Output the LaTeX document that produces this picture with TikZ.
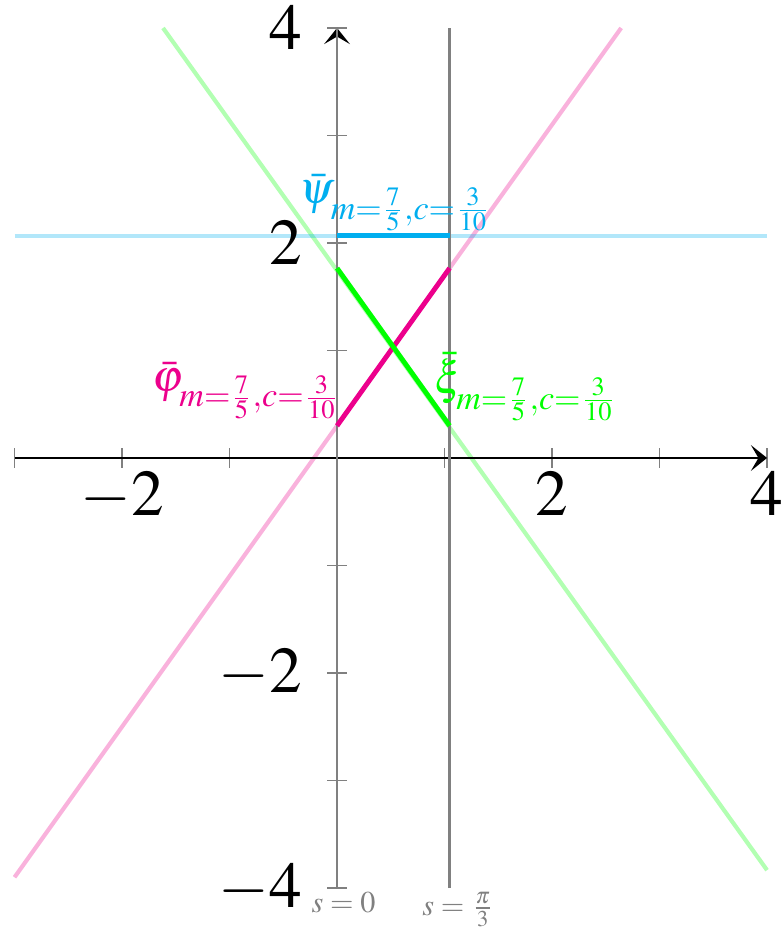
\documentclass[tikz,border=0pt]{standalone}
\usepackage{mathptmx}
\usetikzlibrary{arrows.meta}
\definecolor{cmag}{RGB}{236,0,140}
\definecolor{cgrn}{RGB}{0,255,0}
\definecolor{ccyn}{RGB}{0,174,239}
\tikzset{
  pale/.style={line width=1.1pt, opacity=0.3},
  bold/.style={line width=1.3pt},
  axis/.style={line width=0.6pt, -{Stealth[length=1.5mm,width=2.4mm,inset=0.7mm]}},
  tickmark/.style={gray, line width=0.4pt},
  vline/.style={gray, line width=0.7pt},
  ticklab/.style={font=\LARGE, inner sep=0pt},
  curvelab/.style={font=\large, inner sep=1pt},
  slab/.style={gray, font=\footnotesize, inner sep=1pt}
}
\begin{document}
\begin{tikzpicture}
\useasboundingbox (-3.135,-4.372) rectangle (4.149,4.26);
% pale full lines
\coordinate (pa) at (-3,-3.9);
\coordinate (pb) at (2.6429,4);
\coordinate (ga) at (-1.6186,4);
\coordinate (gb) at (4,-3.8339);
\coordinate (ba) at (-3,2.066);
\coordinate (bb) at (4,2.066);
\draw[pale, cmag] (pa) -- (pb);
\draw[pale, cgrn] (ga) -- (gb);
\draw[pale, ccyn] (ba) -- (bb);
% ticks
\foreach \x in {-3,...,4} \draw[tickmark] (\x,-0.09) -- (\x,0.09);
\foreach \y in {-4,...,4} \draw[tickmark] (-0.09,\y) -- (0.09,\y);
% axes
\coordinate (xl) at (-3,0);
\coordinate (xr) at (4,0);
\coordinate (yb) at (0,-4);
\coordinate (yt) at (0,4);
\draw[axis] (xl) -- (xr);
\draw[axis] (yb) -- (yt);
% vertical lines
\coordinate (v1b) at (1.0472,-4);
\coordinate (v1t) at (1.0472,4);
\draw[vline] (yb) -- (yt);
\draw[vline] (v1b) -- (v1t);
% tick labels
\node[ticklab, anchor=north] (xm2) at (-2,-0.12) {$-2$};
\node[ticklab, anchor=north] (xp2) at (2,-0.12) {$2$};
\node[ticklab, anchor=north] (xp4) at (4,-0.12) {$4$};
\node[ticklab, anchor=east] (yp4) at (-0.32,4) {$4$};
\node[ticklab, anchor=east] (yp2) at (-0.32,2) {$2$};
\node[ticklab, anchor=east] (ym2) at (-0.32,-2) {$-2$};
\node[ticklab, anchor=east] (ym4) at (-0.32,-4) {$-4$};
% bold segments
\coordinate (p0) at (0,0.3);
\coordinate (p1) at (1.0472,1.766);
\coordinate (q0) at (0,1.766);
\coordinate (q1) at (1.0472,0.3);
\coordinate (r0) at (0,2.066);
\coordinate (r1) at (1.0472,2.066);
\draw[bold, cmag] (p0) -- (p1);
\draw[bold, cgrn] (q0) -- (q1);
\draw[bold, ccyn] (r0) -- (r1);
% curve labels
\node[curvelab, ccyn, anchor=south] (lpsi) at (0.55,2.066) {$\bar\psi_{m=\frac{7}{5},c=\frac{3}{10}}$};
\node[curvelab, cmag, anchor=south east] (lphi) at (0.08,0.32) {$\bar\varphi_{m=\frac{7}{5},c=\frac{3}{10}}$};
\node[curvelab, cgrn, anchor=south west] (lxi) at (0.86,0.3) {$\bar\xi_{m=\frac{7}{5},c=\frac{3}{10}}$};
% s labels
\node[slab, anchor=north] (s0) at (0.06,-4) {$s = 0$};
\node[slab, anchor=north] (s1) at (1.13,-4) {$s = \frac{\pi}{3}$};
\end{tikzpicture}
\end{document}
